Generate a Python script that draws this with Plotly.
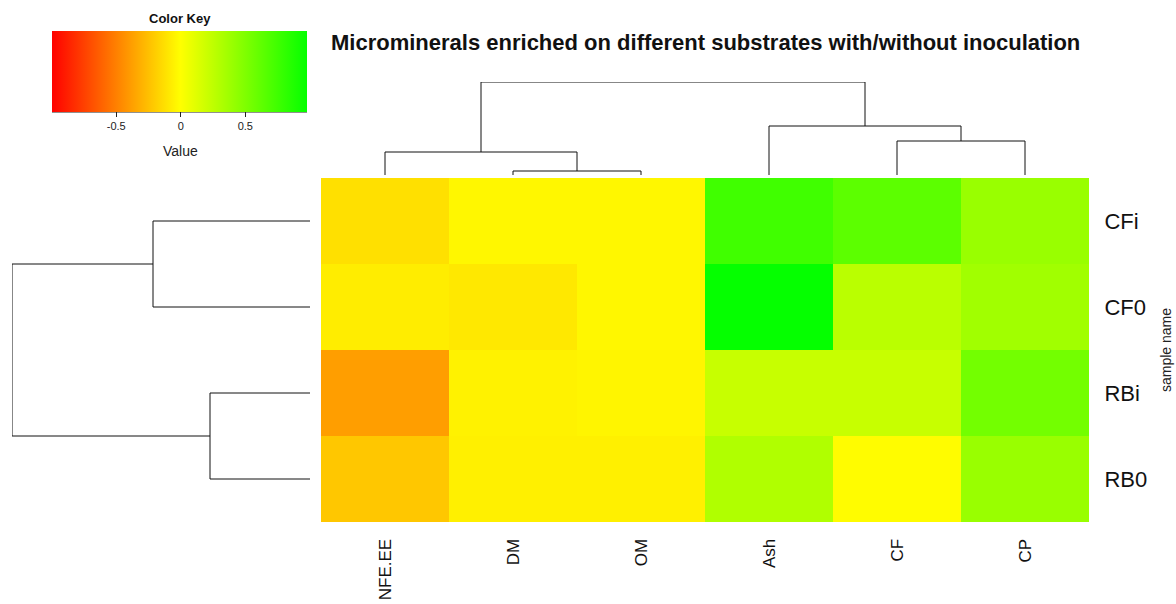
import plotly.graph_objects as go

# ---------------- data ----------------
rows = ["CFi", "CF0", "RBi", "RB0"]
cols = ["NFE.EE", "DM", "OM", "Ash", "CF", "CP"]
values = [
    [-0.12, -0.03, -0.03, 0.75, 0.64, 0.40],
    [-0.07, -0.09, -0.03, 0.98, 0.27, 0.37],
    [-0.38, -0.05, -0.04, 0.22, 0.22, 0.55],
    [-0.22, -0.06, -0.06, 0.31, -0.01, 0.40],
]
# dendrogram merges (child a, child b, height); "mK" = K-th merge
col_links = [("DM", "OM", 4.0), ("NFE.EE", "m0", 23.0), ("CF", "CP", 34.0),
             ("Ash", "m2", 49.0), ("m1", "m3", 93.0)]
row_links = [("RBi", "RB0", 100.0), ("CFi", "CF0", 157.0), ("m1", "m0", 298.0)]
key_ticks = [-0.5, 0, 0.5]
zmin, zmax = -0.995, 0.98

W, H = 1176, 604
FONT = "Liberation Sans, Arial, sans-serif"


def px(x):
    return x / W


def py(y):
    return 1 - y / H


def dendro_segments(leaves, links):
    pos = {n: i for i, n in enumerate(leaves)}
    hgt = {n: 0.0 for n in leaves}
    p_list, h_list = [], []
    for k, (a, b, h) in enumerate(links):
        pa, pb = pos[a], pos[b]
        ha, hb = hgt[a], hgt[b]
        p_list += [pa, pa, pb, pb, None]
        h_list += [ha, h, h, hb, None]
        name = "m%d" % k
        pos[name] = (pa + pb) / 2
        hgt[name] = h
    return p_list, h_list


def clr(v):
    if v < 0:
        return "rgb(255,%d,0)" % round(255 * (1 + v))
    return "rgb(%d,255,0)" % round(255 * (1 - v))


p0 = (0 - zmin) / (zmax - zmin)
colorscale = [[0, clr(zmin)], [p0, "rgb(255,255,0)"], [1, clr(zmax)]]

fig = go.Figure()

fig.add_trace(go.Heatmap(
    z=values, x=cols, y=rows, zmin=zmin, zmax=zmax, colorscale=colorscale,
    xaxis="x", yaxis="y", hoverongaps=False,
    colorbar=dict(
        orientation="h", thickness=81, lenmode="pixels", len=255,
        x=px(179.8), xanchor="center", y=py(31), yanchor="top",
        xpad=0, ypad=0, outlinewidth=0,
        tickvals=key_ticks, ticktext=["-0.5", "0", "0.5"],
        ticks="outside", ticklen=5, tickwidth=1, tickcolor="#222",
        tickfont=dict(family=FONT, size=11, color="#222"),
    ),
))

# column dendrogram
cx, ch = dendro_segments(cols, col_links)
fig.add_trace(go.Scatter(x=cx, y=ch, mode="lines", xaxis="x2", yaxis="y2",
                         line=dict(color="#111", width=1), hoverinfo="skip",
                         showlegend=False))
# row dendrogram
ry, rh = dendro_segments(rows, row_links)
fig.add_trace(go.Scatter(x=rh, y=ry, mode="lines", xaxis="x3", yaxis="y3",
                         line=dict(color="#111", width=1), hoverinfo="skip",
                         showlegend=False))

hm_x = [px(321), px(1089)]
hm_y = [py(522), py(178)]
top_h = max(l[2] for l in col_links)
left_h = max(l[2] for l in row_links)


def ann(text, x, y, size, angle=0, color="#111"):
    return dict(text=text, x=px(x), y=py(y), xref="paper", yref="paper",
                xanchor="center", yanchor="middle", showarrow=False,
                textangle=angle, font=dict(family=FONT, size=size, color=color))


fig.update_layout(
    width=W, height=H, margin=dict(l=0, r=0, t=0, b=0, autoexpand=False),
    plot_bgcolor="white", paper_bgcolor="white", showlegend=False,
    font=dict(family=FONT, color="#111"),
    xaxis=dict(domain=hm_x, showgrid=False, zeroline=False, showline=False,
               automargin=False, fixedrange=True,
               tickangle=-90, ticks="outside", ticklen=9,
               tickcolor="rgba(0,0,0,0)",
               tickfont=dict(family=FONT, size=17, color="#111")),
    yaxis=dict(domain=hm_y, showgrid=False, zeroline=False, showline=False,
               automargin=False, fixedrange=True,
               side="right", autorange="reversed", ticks="outside", ticklen=10,
               tickcolor="rgba(0,0,0,0)",
               tickfont=dict(family=FONT, size=22, color="#111")),
    xaxis2=dict(domain=hm_x, range=[-0.5, len(cols) - 0.5], visible=False,
                anchor="y2", automargin=False),
    yaxis2=dict(domain=[py(175), py(82)], range=[0, top_h], visible=False,
                anchor="x2", automargin=False),
    xaxis3=dict(domain=[px(12), px(310)], range=[left_h, 0], visible=False,
                anchor="y3", automargin=False),
    yaxis3=dict(domain=hm_y, range=[len(rows) - 0.5, -0.5], visible=False,
                anchor="x3", automargin=False),
    annotations=[
        ann("<b>Microminerals enriched on different substrates with/without inoculation</b>",
            705, 43, 22),
        ann("<b>Color Key</b>", 180, 19, 13),
        ann("Value", 180, 151, 14, color="#222"),
        ann("sample name", 1166, 350, 14, angle=-90, color="#222"),
    ],
    shapes=[
        dict(type="line", xref="paper", yref="paper", x0=px(52), x1=px(307),
             y0=py(112), y1=py(112), line=dict(color="#222", width=1)),
    ],
)

fig.write_html("out.html", config={"displayModeBar": False},
               post_script="document.body.style.margin='0';"
                           "document.body.style.overflow='hidden';")
